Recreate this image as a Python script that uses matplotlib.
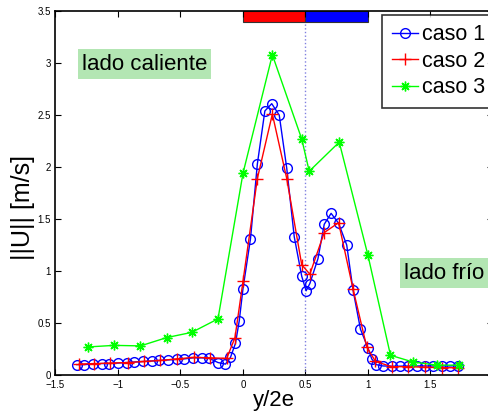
import numpy as np
import matplotlib
matplotlib.use("Agg")
import matplotlib.pyplot as plt
from matplotlib.patches import Rectangle

plt.rcParams['font.family'] = ['Liberation Sans', 'DejaVu Sans']

# caso 1 (malla fina)
x1 = [-1.33, -1.27, -1.20, -1.13, -1.07, -1.00, -0.93, -0.87, -0.80, -0.73,
      -0.67, -0.60, -0.53, -0.47, -0.40, -0.33, -0.27, -0.20, -0.14, -0.10,
      -0.06, -0.03, 0.00, 0.06, 0.115, 0.175, 0.23, 0.29, 0.35, 0.41,
      0.47, 0.505, 0.535, 0.60, 0.65, 0.705, 0.765, 0.83, 0.88, 0.94,
      1.00, 1.03, 1.065, 1.12, 1.19, 1.255, 1.32, 1.39, 1.455, 1.52,
      1.59, 1.655, 1.72]
u1 = [0.10, 0.10, 0.105, 0.11, 0.11, 0.115, 0.12, 0.125, 0.13, 0.135,
      0.14, 0.145, 0.15, 0.155, 0.165, 0.165, 0.16, 0.12, 0.105, 0.17,
      0.305, 0.52, 0.83, 1.31, 2.03, 2.54, 2.61, 2.50, 1.99, 1.33,
      0.95, 0.81, 0.88, 1.12, 1.45, 1.555, 1.46, 1.25, 0.82, 0.44,
      0.26, 0.155, 0.10, 0.087, 0.085, 0.085, 0.087, 0.087, 0.087, 0.087,
      0.087, 0.087, 0.09]

# caso 2
x2 = [-1.31, -1.19, -1.06, -0.92, -0.79, -0.66, -0.53, -0.39, -0.26, -0.13,
      -0.064, 0.0, 0.115, 0.235, 0.35, 0.47, 0.535, 0.65, 0.765, 0.88,
      0.99, 1.06, 1.19, 1.32, 1.455, 1.59, 1.72]
u2 = [0.105, 0.11, 0.115, 0.12, 0.13, 0.14, 0.155, 0.17, 0.165, 0.16,
      0.36, 0.90, 1.89, 2.51, 1.89, 1.06, 0.97, 1.37, 1.465, 0.83,
      0.27, 0.13, 0.08, 0.08, 0.075, 0.07, 0.07]

# caso 3
x3 = [-1.24, -1.03, -0.82, -0.61, -0.41, -0.20, 0.0, 0.235, 0.47, 0.53,
      0.77, 1.0, 1.18, 1.36, 1.55, 1.73]
u3 = [0.27, 0.285, 0.28, 0.36, 0.41, 0.54, 1.94, 3.08, 2.27, 1.96,
      2.24, 1.15, 0.19, 0.125, 0.095, 0.095]

xticks = [-1.5, -1, -0.5, 0, 0.5, 1, 1.5, 2]
xticklabels = ['\u22121.5', '\u22121', '\u22120.5', '0', '0.5', '1', '1.5', '']
yticks = [0, 0.5, 1, 1.5, 2, 2.5, 3, 3.5]
yticklabels = ['0', '0.5', '1', '1.5', '2', '2.5', '3', '3.5']

fig = plt.figure(figsize=(4.88, 4.13), dpi=100)
ax = fig.add_axes([0.1137, 0.092, 0.8965, 0.881])

ax.plot([0.5, 0.5], [0, 3.4], ':', color='#8080e0', lw=1)

ax.plot(x1, u1, '-o', color='blue', mfc='none', ms=7, lw=1, label='caso 1')
ax.plot(x2, u2, '-+', color='red', ms=8, lw=1, label='caso 2')
ax.plot(x3, u3, '-', marker=(8, 2, 0), color='#00ff00', ms=7, lw=1, label='caso 3')

# barra de pared caliente / fria
ax.add_patch(Rectangle((0, 3.4), 0.5, 0.1, facecolor='red', edgecolor='#333333', lw=0.8))
ax.add_patch(Rectangle((0.5, 3.4), 0.5, 0.1, facecolor='blue', edgecolor='#333333', lw=0.8))

ax.text(-1.29, 2.99, 'lado caliente', fontsize=16, va='center', ha='left',
        bbox=dict(facecolor='#b3e6b3', edgecolor='none', pad=3))
ax.text(1.29, 0.98, 'lado frío', fontsize=16, va='center', ha='left',
        bbox=dict(facecolor='#b3e6b3', edgecolor='none', pad=3))

ax.set_xlim(-1.5, 2)
ax.set_ylim(0, 3.5)
ax.set_xticks(xticks)
ax.set_yticks(yticks)
ax.set_xticklabels(xticklabels)
ax.set_yticklabels(yticklabels)
ax.tick_params(direction='in', top=True, right=True, labelsize=7, length=4)
for s in ax.spines.values():
    s.set_linewidth(1.2)

ax.set_xlabel('y/2e', fontsize=16, labelpad=0)
ax.set_ylabel('||U|| [m/s]', fontsize=18)
ax.yaxis.set_label_coords(-0.046, 0.46)

leg = ax.legend(loc='upper left', bbox_to_anchor=(0.746, 0.99), fontsize=15.5,
                fancybox=False, edgecolor='black', handlelength=1.25,
                handletextpad=0.15, borderpad=0.45, labelspacing=0.25,
                borderaxespad=0.0)
leg.get_frame().set_linewidth(1.2)

fig.savefig('out.png', dpi=100)
